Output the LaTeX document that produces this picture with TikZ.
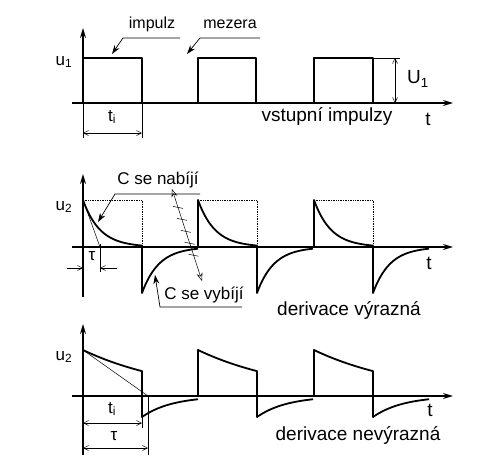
\documentclass[tikz,border=0pt]{standalone}
\usepackage{fontspec}
\setmainfont{Liberation Sans}
\usetikzlibrary{arrows.meta,calc}
\begin{document}
\begin{tikzpicture}[x=1pt,y=-1pt,
 axis/.style={line width=1.4pt,-{Stealth[length=10pt,width=6pt]}},
 sig/.style={line width=1.8pt, line join=round},
 dimline/.style={line width=0.5pt,{Straight Barb[length=5pt,width=5pt]}-{Straight Barb[length=5pt,width=5pt]}},
 halfdim/.style={line width=0.5pt,-{Straight Barb[length=5pt,width=5pt]}},
 ext/.style={line width=0.5pt},
 lead/.style={line width=0.7pt,-{Stealth[length=9pt,width=6pt]}},
 dots/.style={line width=0.7pt, densely dotted},
 lbl/.style={font=\fontsize{17}{17}\selectfont, inner sep=0pt},
 small/.style={font=\fontsize{16}{16}\selectfont, inner sep=0pt},
 captext/.style={font=\fontsize{19}{19}\selectfont, inner sep=0pt}]

\useasboundingbox (0,0) rectangle (479,458);
\fill[white] (0,0) rectangle (479,458);

% ---------- top panel ----------
\coordinate (y1b) at (83,103);
\coordinate (y1t) at (83,28);
\coordinate (x1a) at (72,103);
\coordinate (x1b) at (453,103);
\draw[ext] (83,103) -- (83,138);
\draw[axis] (y1b) -- (y1t);
\draw[axis] (x1a) -- (x1b);
\draw[sig] (83,103) -- (83,58) -- (142,58) -- (142,103) -- (198,103) -- (198,58) -- (256,58) -- (256,103)
  -- (314,103) -- (314,58) -- (373,58) -- (373,103);
\node[lbl] (u1) at (64,62) {u\textsubscript{1}};
\node[small] (imp) at (152,24) {impulz};
\node[small] (mez) at (230,24) {mezera};
\coordinate (impL) at (123,38);
\coordinate (impR) at (180,38);
\coordinate (impT) at (112,54);
\coordinate (mezL) at (200,38);
\coordinate (mezR) at (260,38);
\coordinate (mezT) at (187,54);
\draw[lead] (impR) -- (impL) -- (impT);
\draw[lead] (mezR) -- (mezL) -- (mezT);
% t_i dimension
\draw[ext] (142,103) -- (142,138);
\coordinate (ti1a) at (83,133);
\coordinate (ti1b) at (142,133);
\draw[dimline] (ti1a) -- (ti1b);
\node[lbl] (ti1) at (112,117) {t\textsubscript{i}};
% U1 dimension
\draw[ext] (373,58) -- (400,58);
\coordinate (U1a) at (395,58);
\coordinate (U1b) at (395,103);
\draw[dimline] (U1a) -- (U1b);
\node[captext] (U1) at (418,79) {U\textsubscript{1}};
\node[captext] (vst) at (327,116) {vstupní impulzy};
\node[captext] (t1) at (428,119) {t};

% ---------- middle panel ----------
\draw[axis] (83,297) -- (83,174);
\draw[axis] (72,247) -- (453,247);
\node[lbl] (u2a) at (64,207) {u\textsubscript{2}};
\foreach \a in {83,198,314}{
  \pgfmathsetmacro{\b}{\a+59}
  \draw[dots] (\a,200) -- (\b,200) -- (\b,247);
  \draw[sig] (\a,247) -- (\a,200) -- plot[domain=0:59,samples=50] ({\a+\x},{247-47*exp(-\x/17)})
     -- (\b,293) -- plot[domain=0:56,samples=50] ({\b+\x},{247+46*exp(-\x/17)});
}
% tau dimension
\draw[ext] (83,200) -- (100,247);
\draw[ext] (100,244) -- (100,272);
\draw[halfdim] (67,268) -- (83,268);
\draw[halfdim] (117,268) -- (100,268);
\node[lbl] (tau1) at (92,256) {τ};
% C se nabiji
\node[lbl] (nab) at (158,180) {C se nabíjí};
\draw[lead] (200,194) -- (115,194) -- (98,222);
% hatched double arrow
\coordinate (hA) at (172,189);
\coordinate (hB) at (202,281);
\draw[ext,{Stealth[length=8pt,width=6pt,open]}-{Stealth[length=8pt,width=6pt,open]}] (hA) -- (hB);
\foreach \p in {0.2,0.33,0.46,0.59,0.72}{
  \draw[ext] ($(hA)!\p!(hB)+(-5,-1)$) -- ($(hA)!\p!(hB)+(5,1)$);
}
% C se vybiji
\node[lbl] (vyb) at (204,295) {C se vybíjí};
\draw[lead] (242,307) -- (160,307) -- (155,275);
\node[captext] (t2) at (429,263) {t};
\node[captext] (dv) at (349,310) {derivace výrazná};

% ---------- bottom panel ----------
\draw[axis] (83,455) -- (83,324);
\draw[axis] (72,396) -- (453,396);
\node[lbl] (u2b) at (64,357) {u\textsubscript{2}};
\foreach \a in {83,198,314}{
  \pgfmathsetmacro{\b}{\a+59}
  \draw[sig] (\a,396) -- (\a,350) -- plot[domain=0:59,samples=50] ({\a+\x},{396-46*exp(-\x/96)})
     -- (\b,417) -- plot[domain=0:56,samples=50] ({\b+\x},{396+21*exp(-\x/30)});
}
\draw[ext] (83,350) -- (148,396);
\draw[ext] (142,417) -- (142,428);
\draw[ext] (148,396) -- (148,455);
\coordinate (ti2a) at (83,423);
\coordinate (ti2b) at (142,423);
\draw[dimline] (ti2a) -- (ti2b);
\coordinate (ta2a) at (83,448);
\coordinate (ta2b) at (148,448);
\draw[dimline] (ta2a) -- (ta2b);
\node[lbl] (ti2) at (112,409) {t\textsubscript{i}};
\node[lbl] (tau2) at (114,436) {τ};
\node[captext] (t3) at (430,410) {t};
\node[captext] (dn) at (358,435) {derivace nevýrazná};
\end{tikzpicture}
\end{document}
